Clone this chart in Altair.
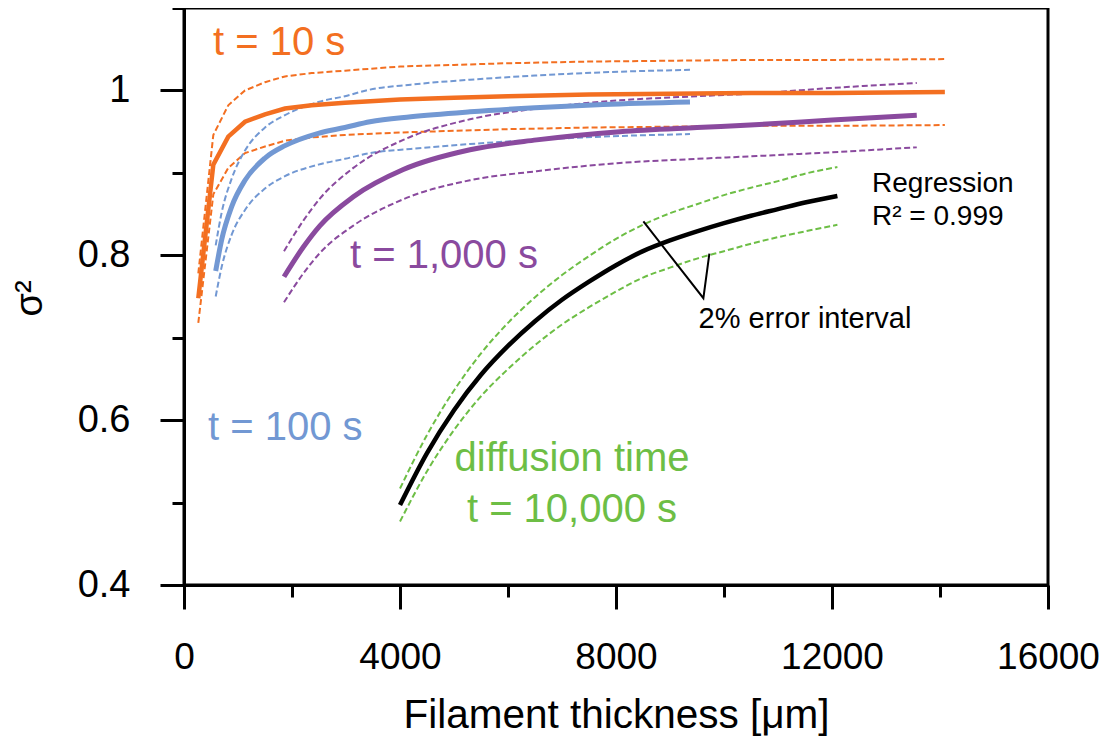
import altair as alt
import pandas as pd

# ---- data ----
# t = 10 s
x_10 = [265, 543, 820, 1130, 1500, 1870, 2365, 2980, 4000, 5000, 6000, 7500, 9000, 10500, 12000, 14090]
y_10 = [0.748, 0.910, 0.944, 0.962, 0.971, 0.978, 0.982, 0.985, 0.989, 0.991, 0.993, 0.995, 0.996, 0.997, 0.997, 0.998]
y_10_hi = [0.778, 0.946, 0.982, 1.000, 1.010, 1.017, 1.021, 1.024, 1.029, 1.031, 1.033, 1.035, 1.036, 1.037, 1.037, 1.038]
y_10_lo = [0.718, 0.874, 0.906, 0.924, 0.932, 0.939, 0.943, 0.946, 0.949, 0.951, 0.953, 0.955, 0.956, 0.957, 0.957, 0.958]

# t = 100 s
x_100 = [587, 698, 883, 1130, 1500, 1870, 2487, 2980, 3444, 4200, 5296, 6500, 7760, 9370]
y_100 = [0.781, 0.819, 0.859, 0.891, 0.918, 0.933, 0.948, 0.955, 0.962, 0.968, 0.974, 0.979, 0.983, 0.986]
y_100_hi = [0.812, 0.852, 0.893, 0.927, 0.955, 0.970, 0.986, 0.993, 1.001, 1.007, 1.013, 1.018, 1.022, 1.025]
y_100_lo = [0.750, 0.786, 0.825, 0.855, 0.881, 0.896, 0.910, 0.917, 0.924, 0.929, 0.935, 0.940, 0.944, 0.947]

# t = 1,000 s
x_1000 = [1852, 2210, 2519, 3136, 4061, 5296, 6531, 8074, 9500, 10482, 12000, 13570]
y_1000 = [0.774, 0.810, 0.836, 0.871, 0.904, 0.928, 0.940, 0.950, 0.955, 0.958, 0.964, 0.970]
y_1000_hi = [0.805, 0.842, 0.869, 0.906, 0.940, 0.965, 0.978, 0.988, 0.993, 0.996, 1.003, 1.009]
y_1000_lo = [0.743, 0.778, 0.803, 0.836, 0.868, 0.891, 0.902, 0.912, 0.917, 0.920, 0.925, 0.931]

# t = 10,000 s (regression)
x_10000 = [4000, 4500, 5000, 5500, 6000, 6500, 7000, 7500, 8000, 8500, 9000, 9500, 10000, 10500, 11000, 11500, 12100]
y_10000 = [0.497, 0.560, 0.612, 0.655, 0.690, 0.720, 0.746, 0.768, 0.788, 0.805, 0.818, 0.829, 0.839, 0.848, 0.856, 0.864, 0.872]
y_10000_hi = [0.517, 0.582, 0.636, 0.681, 0.718, 0.749, 0.776, 0.799, 0.820, 0.837, 0.851, 0.862, 0.873, 0.882, 0.890, 0.899, 0.907]
y_10000_lo = [0.477, 0.538, 0.588, 0.629, 0.662, 0.691, 0.716, 0.737, 0.756, 0.773, 0.785, 0.796, 0.805, 0.814, 0.822, 0.829, 0.837]

# annotation pointer for "2% error interval"
pointer_x = [8507, 9618, 9729]
pointer_y = [0.841, 0.748, 0.802]

x_ticks = [0, 2000, 4000, 6000, 8000, 10000, 12000, 14000, 16000]
y_ticks = [0.4, 0.5, 0.6, 0.7, 0.8, 0.9, 1.0, 1.1]

ORANGE = "#F36F21"
BLUE = "#7298D3"
PURPLE = "#8A4A9E"
GREEN = "#6DBE45"
FONT = "Liberation Sans"

xscale = alt.Scale(domain=[0, 16000], nice=False, zero=False)
yscale = alt.Scale(domain=[0.4, 1.1], nice=False, zero=False)

x_axis = alt.Axis(
    values=x_ticks,
    title="Filament thickness [μm]",
    format="d",
    labelExpr="datum.value % 4000 === 0 ? datum.label : ''",
    tickSize={"condition": {"test": "datum.value % 4000 === 0", "value": 24}, "value": 12},
    tickWidth=3, tickColor="black", domainWidth=3, domainColor="black",
    labelFont=FONT, labelFontSize=37, labelColor="black", labelFlush=False,
    labelBaseline="alphabetic", labelPadding=59, labelOverlap=False,
    titleFont=FONT, titleFontSize=40.5, titleFontWeight="normal", titleColor="black",
    titleBaseline="alphabetic", titleX=432, titleY=142, titleAnchor="middle", titleAlign="center",
    grid=False,
)
y_axis = alt.Axis(
    values=y_ticks,
    title="σ²",
    labelExpr="round(datum.value*10) % 2 === 0 ? format(datum.value, '~g') : ''",
    tickSize={"condition": {"test": "round(datum.value*10) % 2 === 0", "value": 24}, "value": 12},
    tickWidth=3, tickColor="black", domainWidth=3, domainColor="black",
    labelFont=FONT, labelFontSize=38, labelColor="black", labelPadding=30,
    labelFlush=False, labelOverlap=False,
    titleFont=FONT, titleFontSize=38, titleFontWeight="normal", titleColor="black",
    titleX=-154, titleY=290, titleAngle=-90, titleAlign="center", titleBaseline="middle",
    grid=False,
)


def line(xs, ys, color, width, dash=None, interp="monotone"):
    df = pd.DataFrame({"x": xs, "y": ys})
    kw = dict(color=color, strokeWidth=width, interpolate=interp, clip=True)
    if dash:
        kw["strokeDash"] = dash
    return alt.Chart(df).mark_line(**kw).encode(
        x=alt.X("x:Q", scale=xscale, axis=x_axis),
        y=alt.Y("y:Q", scale=yscale, axis=y_axis),
    )


DASH = [6, 3]
layers = [
    # t = 10 s
    line(x_10, y_10_hi, ORANGE, 2, DASH, "linear"),
    line(x_10, y_10_lo, ORANGE, 2, DASH, "linear"),
    # t = 100 s
    line(x_100, y_100_hi, BLUE, 2, DASH),
    line(x_100, y_100_lo, BLUE, 2, DASH),
    # t = 1,000 s
    line(x_1000, y_1000_hi, PURPLE, 2, DASH),
    line(x_1000, y_1000_lo, PURPLE, 2, DASH),
    # t = 10,000 s
    line(x_10000, y_10000_hi, GREEN, 2, DASH),
    line(x_10000, y_10000_lo, GREEN, 2, DASH),
    # solid curves
    line(x_100, y_100, BLUE, 5),
    line(x_1000, y_1000, PURPLE, 5),
    line(x_10, y_10, ORANGE, 4.5, None, "linear"),
    line(x_10000, y_10000, "black", 4.5),
    line(pointer_x, pointer_y, "black", 2, None, "linear"),
]


def label(text, x, y, color, size, align="left"):
    return alt.Chart(pd.DataFrame({"a": [0]})).mark_text(
        text=text, color=color, font=FONT, fontSize=size, align=align, baseline="alphabetic"
    ).encode(
        x=alt.datum(x, scale=xscale, axis=x_axis),
        y=alt.datum(y, scale=yscale, axis=y_axis),
    )


labels = [
    label("t = 10 s", 537, 1.043, ORANGE, 40),
    label("t = 100 s", 444, 0.576, BLUE, 40),
    label("t = 1,000 s", 3074, 0.7846, PURPLE, 40),
    label("diffusion time", 7185, 0.5383, GREEN, 40, "center"),
    label("t = 10,000 s", 7185, 0.4764, GREEN, 40, "center"),
    label("Regression", 12741, 0.8768, "black", 28),
    label("R² = 0.999", 12741, 0.8367, "black", 28),
    label("2% error interval", 9530, 0.7118, "black", 29),
]

chart = alt.layer(*layers, *labels).properties(
    width=864, height=577,
    background="white",
    autosize=alt.AutoSizeParams(type="none"),
    padding={"left": 176, "top": 0, "right": 52, "bottom": 152},
).configure_view(stroke="black", strokeWidth=3)

chart.save("out.html", embed_options={"renderer": "svg", "actions": False})
